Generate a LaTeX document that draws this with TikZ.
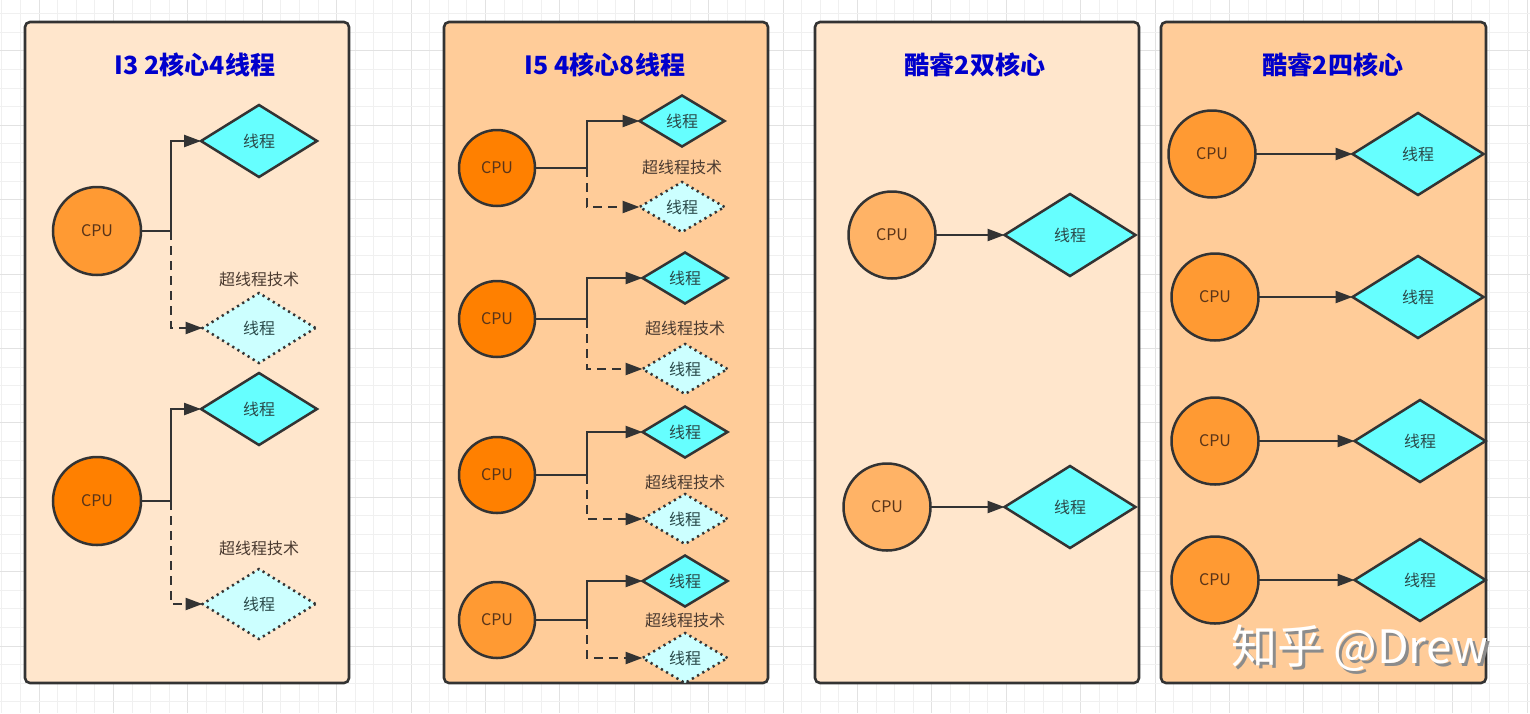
\documentclass[tikz,border=0pt]{standalone}
\usepackage{fontspec}
\setmainfont{Noto Sans CJK SC}
\usetikzlibrary{shapes.geometric,arrows.meta}
\definecolor{edge}{HTML}{333333}
\definecolor{peachA}{HTML}{FFE6CC}
\definecolor{peachB}{HTML}{FFCC99}
\definecolor{cpuA}{HTML}{FF9A33}
\definecolor{cpuB}{HTML}{FF8000}
\definecolor{cpuC}{HTML}{FFB366}
\definecolor{thrfill}{HTML}{66FFFF}
\definecolor{hthrfill}{HTML}{CCFFFF}
\definecolor{titleblue}{HTML}{0000CC}
\definecolor{cputext}{HTML}{5A3418}
\definecolor{thrtext}{HTML}{2A4A4A}
\definecolor{lbltext}{HTML}{4A3A30}
\definecolor{gridminor}{HTML}{F0F0F0}
\definecolor{gridmajor}{HTML}{E2E2E2}
\tikzset{
  panel/.style={draw=edge, line width=1.3pt, rounded corners=2.5pt},
  ptitle/.style={text=titleblue, font=\fontsize{12.5}{14}\selectfont\bfseries, inner sep=0pt},
  cpu/.style 2 args={circle, draw=edge, fill=#2, line width=1.25pt, minimum size=#1, inner sep=0pt, outer sep=0pt, text=cputext, font=\fontsize{8}{9}\selectfont},
  thr/.style 2 args={diamond, draw=edge, fill=thrfill, line width=1.25pt, minimum width=#1, minimum height=#2, inner sep=0pt, outer sep=0pt, text=thrtext, font=\fontsize{8}{9}\selectfont},
  hthr/.style 2 args={diamond, draw=edge, fill=hthrfill, line width=1.25pt, dash pattern=on 1.1pt off 1.9pt, minimum width=#1, minimum height=#2, inner sep=0pt, outer sep=0pt, text=thrtext, font=\fontsize{8}{9}\selectfont},
  htlbl/.style={text=lbltext, font=\fontsize{8}{9}\selectfont, inner sep=0pt},
  conn/.style={draw=edge, line width=1.2pt},
  arr/.style={draw=edge, line width=1.2pt, -{Triangle[length=8.5pt,width=6pt]}},
  darr/.style={draw=edge, line width=1.2pt, dash pattern=on 4.5pt off 3pt, -{Triangle[length=8.5pt,width=6pt]}},
  minorline/.style={draw=gridminor, line width=0.5pt},
  majorline/.style={draw=gridmajor, line width=0.5pt}
}
\begin{document}
\begin{tikzpicture}[x=0.5pt,y=-0.5pt]
\useasboundingbox (0,0) rectangle (1530,713);
\fill[white] (0,0) rectangle (1530,713);
% grid
\foreach \i in {0,...,82}{
  \pgfmathsetmacro\xx{1.8+\i*18.6}
  \pgfmathtruncatemacro\m{mod(\i,4)}
  \ifnum\m=2 \draw[majorline] (\xx,0) -- (\xx,713); \else \draw[minorline] (\xx,0) -- (\xx,713); \fi
}
\foreach \j in {0,...,38}{
  \pgfmathsetmacro\yy{13.6+\j*18.6}
  \pgfmathtruncatemacro\m{mod(\j,4)}
  \ifnum\m=2 \draw[majorline] (0,\yy) -- (1530,\yy); \else \draw[minorline] (0,\yy) -- (1530,\yy); \fi
}
% panels
\draw[panel, fill=peachA] (25,22) rectangle (349,683);
\draw[panel, fill=peachB] (444,22) rectangle (768,683);
\draw[panel, fill=peachA] (815,22) rectangle (1139,683);
\draw[panel, fill=peachB] (1161,22) rectangle (1486,683);
\node[ptitle] (t1) at (195,65) {I3 2核心4线程};
\node[ptitle] (t2) at (605,65) {I5 4核心8线程};
\node[ptitle] (t3) at (975,65) {酷睿2双核心};
\node[ptitle] (t4) at (1333,65) {酷睿2四核心};

% ---- panel 1
\node[cpu={44pt}{cpuA}] (p1c1) at (97,231) {CPU};
\node[thr={58pt}{36pt}] (p1t1) at (259,141) {线程};
\node[htlbl] (p1l1) at (259,279) {超线程技术};
\node[hthr={56.5pt}{35pt}] (p1h1) at (259,328) {线程};
\coordinate (p1j1) at (171,231);
\draw[conn] (p1c1.east) -- (p1j1);
\draw[arr] (p1j1) |- (p1t1.west);
\draw[darr] (p1j1) |- (p1h1.west);

\node[cpu={44pt}{cpuB}] (p1c2) at (97,501) {CPU};
\node[thr={58pt}{36pt}] (p1t2) at (259,409) {线程};
\node[htlbl] (p1l2) at (259,548) {超线程技术};
\node[hthr={56.5pt}{35pt}] (p1h2) at (259,604) {线程};
\coordinate (p1j2) at (171,501);
\draw[conn] (p1c2.east) -- (p1j2);
\draw[arr] (p1j2) |- (p1t2.west);
\draw[darr] (p1j2) |- (p1h2.west);

% ---- panel 2
\foreach \n/\cy/\ty/\ly/\hy/\tx/\col in {1/168/121/167/207/682/cpuB, 2/319/278/328/369/685/cpuB, 3/475/432/482/519/685/cpuB, 4/620/581/620/658/685/cpuA}{
  \node[cpu={38pt}{\col}] (p2c\n) at (497,\cy) {CPU};
  \node[thr={42.5pt}{25.5pt}] (p2t\n) at (\tx,\ty) {线程};
  \node[htlbl] (p2l\n) at (\tx,\ly) {超线程技术};
  \node[hthr={42.5pt}{25pt}] (p2h\n) at (\tx,\hy) {线程};
  \coordinate (p2j\n) at (587,\cy);
  \draw[conn] (p2c\n.east) -- (p2j\n);
  \draw[arr] (p2j\n) |- (p2t\n.west);
  \draw[darr] (p2j\n) |- (p2h\n.west);
}

% ---- panel 3
\node[cpu={43.5pt}{cpuC}] (p3c1) at (892,235) {CPU};
\node[thr={65.5pt}{41pt}] (p3t1) at (1070,235) {线程};
\draw[arr] (p3c1.east) -- (p3t1.west);
\node[cpu={43.5pt}{cpuC}] (p3c2) at (887,507) {CPU};
\node[thr={65.5pt}{41pt}] (p3t2) at (1070,507) {线程};
\draw[arr] (p3c2.east) -- (p3t2.west);

% ---- panel 4
\foreach \n/\cx/\tx/\yy in {1/1212/1418/154, 2/1215/1418/297, 3/1215/1420/441, 4/1215/1420/580}{
  \node[cpu={43.5pt}{cpuA}] (p4c\n) at (\cx,\yy) {CPU};
  \node[thr={65.5pt}{41pt}] (p4t\n) at (\tx,\yy) {线程};
  \draw[arr] (p4c\n.east) -- (p4t\n.west);
}

% watermark
\node[text=black!45, font=\fontsize{23}{25}\selectfont, inner sep=0pt] (wms) at (1363,651) {知乎 @Drew};
\node[text=white, font=\fontsize{23}{25}\selectfont, inner sep=0pt] (wm) at (1360,648) {知乎 @Drew};
\end{tikzpicture}
\end{document}
